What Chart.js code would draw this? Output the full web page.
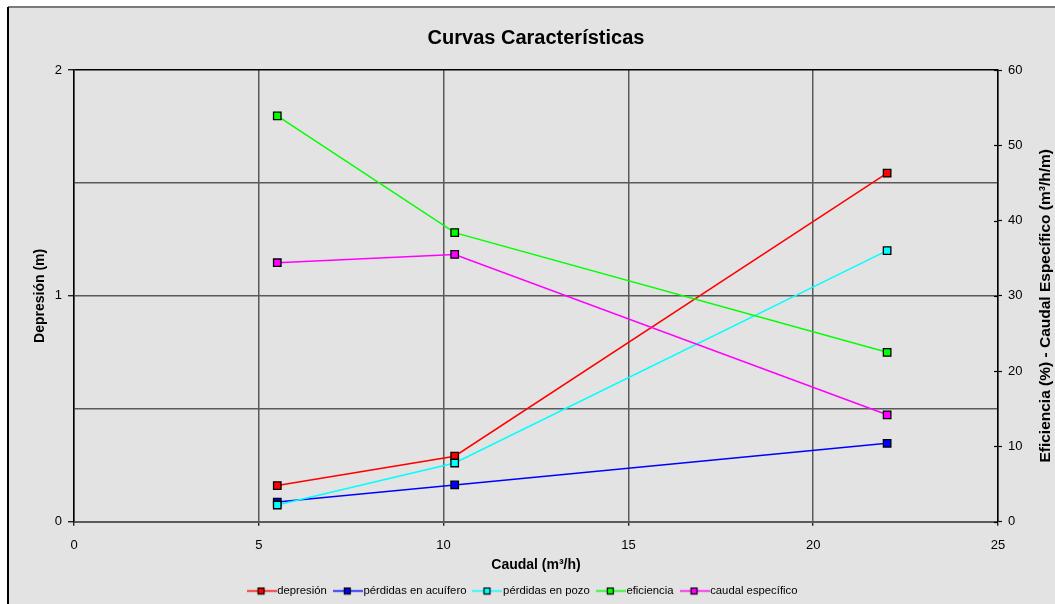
<!DOCTYPE html>
<html>
<head>
<meta charset="utf-8">
<title>Curvas Características</title>
<script src="https://cdn.jsdelivr.net/npm/chart.js@4.4.1/dist/chart.umd.min.js"></script>
<style>
  html, body { margin: 0; padding: 0; background: #ffffff; }
  canvas { display: block; }
</style>
</head>
<body>
<canvas id="curvas" width="1055" height="604"></canvas>
<script>
// Ensayo de bombeo escalonado: caudal de cada escalón (m3/h)
const caudal = [5.5, 10.3, 22];

// Eje izquierdo (m)
const depresion = [0.16, 0.29, 1.543];
const perdidasAcuifero = [0.087, 0.163, 0.347];
const perdidasPozo = [0.074, 0.26, 1.2];

// Eje derecho: eficiencia (%) y caudal específico (m3/h/m)
const eficiencia = [53.9, 38.4, 22.5];
const caudalEspecifico = [34.4, 35.5, 14.2];

const seriesNames = ['depresión', 'pérdidas en acuífero', 'pérdidas en pozo', 'eficiencia', 'caudal específico'];
const seriesColors = ['#ff0000', '#0000ff', '#00ffff', '#00ff00', '#ff00ff'];
const rightAxisTitle = 'Eficiencia (%) - Caudal Específico (m³/h/m)';

const FONT = "'Liberation Sans', Arial, Helvetica, sans-serif";
const GRID = '#5a5a5a';

function points(ys) {
  return caudal.map((x, i) => ({ x: x, y: ys[i] }));
}

// Small legend glyph: coloured line with a square marker in the middle
function legendGlyph(color) {
  const c = document.createElement('canvas');
  c.width = 30; c.height = 9;
  const g = c.getContext('2d');
  g.strokeStyle = color; g.lineWidth = 1.5;
  g.beginPath(); g.moveTo(0, 4.5); g.lineTo(30, 4.5); g.stroke();
  g.fillStyle = color; g.fillRect(11.5, 1.5, 6, 6);
  g.strokeStyle = '#000'; g.lineWidth = 1.2; g.strokeRect(11.5, 1.5, 6, 6);
  return c;
}

const seriesData = [depresion, perdidasAcuifero, perdidasPozo, eficiencia, caudalEspecifico];
const seriesAxis = ['y', 'y', 'y', 'y1', 'y1'];

const datasets = seriesData.map((vals, i) => ({
  label: seriesNames[i],
  data: points(vals),
  yAxisID: seriesAxis[i],
  borderColor: seriesColors[i],
  backgroundColor: seriesColors[i],
  borderWidth: 1.5,
  tension: 0,
  fill: false,
  pointStyle: 'rect',
  pointRadius: 5.3,
  pointHoverRadius: 5.3,
  pointBackgroundColor: seriesColors[i],
  pointBorderColor: '#000',
  pointBorderWidth: 1.3,
  order: seriesData.length - i
}));

// Grey panel with its frame behind the chart
const framePlugin = {
  id: 'frame',
  beforeDraw(chart) {
    const { ctx, width, height } = chart;
    ctx.save();
    ctx.fillStyle = '#ffffff';
    ctx.fillRect(0, 0, width, height);
    ctx.fillStyle = '#e3e3e3';
    ctx.fillRect(8, 7, width - 8, height - 7);
    ctx.strokeStyle = '#7a7a7a'; ctx.lineWidth = 2;
    ctx.beginPath(); ctx.moveTo(8, 7); ctx.lineTo(width, 7); ctx.stroke();
    ctx.strokeStyle = '#000'; ctx.lineWidth = 2;
    ctx.beginPath(); ctx.moveTo(8, 7); ctx.lineTo(8, height); ctx.stroke();
    ctx.restore();
  }
};

// Right axis: tick marks crossing into the plot and a title read bottom-to-top
const rightAxisPlugin = {
  id: 'rightAxis',
  afterDraw(chart) {
    const s = chart.scales.y1;
    const { ctx, chartArea, width } = chart;
    ctx.save();
    ctx.strokeStyle = '#000'; ctx.lineWidth = 1.2;
    s.ticks.forEach(t => {
      const py = Math.round(s.getPixelForValue(t.value)) + 0.5;
      ctx.beginPath(); ctx.moveTo(s.left - 4, py); ctx.lineTo(s.left, py); ctx.stroke();
    });
    ctx.translate(width - 9, (chartArea.top + chartArea.bottom) / 2 + 10);
    ctx.rotate(-Math.PI / 2);
    ctx.fillStyle = '#000';
    ctx.font = 'bold 15.5px ' + FONT;
    ctx.textAlign = 'center';
    ctx.textBaseline = 'middle';
    ctx.fillText(rightAxisTitle, 0, 0);
    ctx.restore();
  }
};

// Place title over the plot centre and the legend row near the bottom
const placementPlugin = {
  id: 'placement',
  afterLayout(chart) {
    const area = chart.chartArea;
    const tb = chart.titleBlock;
    if (tb) {
      const dx = (area.left + area.right) / 2 - (tb.left + tb.right) / 2;
      tb.left += dx; tb.right += dx;
    }
    const lg = chart.legend;
    if (lg) {
      const pad = lg.options.labels.padding;
      const fs = lg.options.labels.font.size;
      const dy = 591 - (lg.top + pad + fs / 2);
      lg.top += dy; lg.bottom += dy;
      lg.left -= 3; lg.right -= 3;
    }
  }
};

new Chart(document.getElementById('curvas'), {
  type: 'line',
  data: { datasets: datasets },
  plugins: [framePlugin, rightAxisPlugin, placementPlugin],
  options: {
    responsive: false,
    animation: false,
    devicePixelRatio: 1,
    layout: { padding: { left: 0, right: 0, top: 0, bottom: 0 } },
    plugins: {
      title: {
        display: true,
        text: 'Curvas Características',
        color: '#000',
        font: { family: FONT, size: 20, weight: 'bold' },
        padding: { top: 26, bottom: 20 }
      },
      legend: {
        display: true,
        position: 'bottom',
        labels: {
          color: '#000',
          font: { family: FONT, size: 11.3 },
          usePointStyle: true,
          pointStyleWidth: 20,
          padding: 11,
          generateLabels(chart) {
            return chart.data.datasets.map((ds, i) => ({
              text: ds.label,
              datasetIndex: i,
              pointStyle: legendGlyph(ds.borderColor),
              rotation: 0,
              fillStyle: ds.borderColor,
              strokeStyle: ds.borderColor,
              lineWidth: 0,
              hidden: false,
              fontColor: '#000'
            }));
          }
        }
      },
      tooltip: { enabled: false }
    },
    scales: {
      x: {
        type: 'linear',
        min: 0, max: 25,
        ticks: {
          stepSize: 5,
          color: '#000',
          font: { family: FONT, size: 13 },
          padding: 12,
          maxRotation: 0
        },
        grid: {
          color: GRID,
          lineWidth: 1.5,
          tickLength: 4,
          tickColor: '#000',
          tickWidth: 1.2
        },
        border: { color: GRID, width: 2 },
        title: {
          display: true,
          text: 'Caudal (m³/h)',
          color: '#000',
          font: { family: FONT, size: 14, weight: 'bold', lineHeight: 1 },
          padding: { top: 0, bottom: 0 }
        },
        afterFit(scale) { scale.height = 50; }
      },
      y: {
        type: 'linear',
        position: 'left',
        min: 0, max: 2,
        ticks: {
          stepSize: 0.5,
          color: '#000',
          font: { family: FONT, size: 13 },
          padding: 6,
          callback: v => (Number.isInteger(v) ? String(v) : '')
        },
        grid: {
          color: c => (c.tick && c.tick.value === 2 ? '#000' : GRID),
          lineWidth: 1.5,
          tickLength: 6,
          tickWidth: 1.2,
          tickColor: c => (c.tick && Number.isInteger(c.tick.value) ? '#000' : 'rgba(0,0,0,0)')
        },
        border: { color: '#000', width: 1.5 },
        title: {
          display: true,
          text: 'Depresión (m)',
          color: '#000',
          font: { family: FONT, size: 14, weight: 'bold' },
          padding: { top: 32, bottom: 0 }
        },
        afterFit(scale) { scale.width = 74; }
      },
      y1: {
        type: 'linear',
        position: 'right',
        min: 0, max: 60,
        ticks: {
          stepSize: 10,
          color: '#000',
          font: { family: FONT, size: 13 },
          padding: 6
        },
        grid: {
          drawOnChartArea: false,
          tickLength: 4,
          tickWidth: 1.2,
          tickColor: '#000'
        },
        border: { color: '#000', width: 1.5 },
        title: { display: false },
        afterFit(scale) { scale.width = 57; }
      }
    }
  }
});
</script>
</body>
</html>
